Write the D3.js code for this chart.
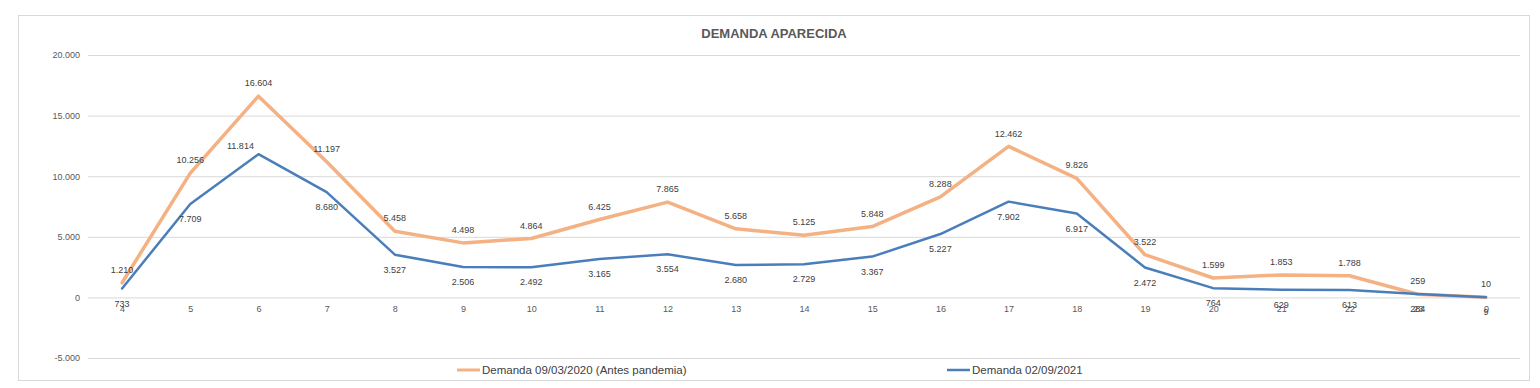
<!DOCTYPE html>
<html>
<head>
<meta charset="utf-8">
<script src="https://cdn.jsdelivr.net/npm/d3@7/dist/d3.min.js"></script>
<style>
  html, body { margin: 0; padding: 0; background: #fff; }
  svg { display: block; font-family: "Liberation Sans", Arial, sans-serif; }
</style>
</head>
<body>
<svg id="chart" width="1540" height="388"></svg>
<script>
const title = "DEMANDA APARECIDA";
const categories = ["4","5","6","7","8","9","10","11","12","13","14","15","16","17","18","19","20","21","22","23","0"];
const series2020 = [1210,10256,16604,11197,5458,4498,4864,6425,7865,5658,5125,5848,8288,12462,9826,3522,1599,1853,1788,259,10];
const series2021 = [733,7709,11814,8680,3527,2506,2492,3165,3554,2680,2729,3367,5227,7902,6917,2472,764,629,613,284,9];
const seriesNames = ["Demanda 09/03/2020 (Antes pandemia)", "Demanda 02/09/2021"];
const yTicks = [-5000, 0, 5000, 10000, 15000, 20000];

const colors = ["#F4B183", "#4A7EBB"];
const svg = d3.select("#chart");
const plotLeft = 88, plotRight = 1520, plotTop = 55, plotBottom = 358;

const locale = d3.formatLocale({decimal: ",", thousands: ".", grouping: [3], currency: ["", ""], minus: "-"});
const fmt = locale.format(",");

const x = d3.scalePoint().domain(categories).range([plotLeft, plotRight]).padding(0.5);
const y = d3.scaleLinear().domain([-5000, 20000]).range([plotBottom, plotTop]);

// chart border
svg.append("rect").attr("x", 18.5).attr("y", 15.5).attr("width", 1511).attr("height", 365)
  .attr("fill", "#fff").attr("stroke", "#d9d9d9").attr("stroke-width", 1);

// title
svg.append("text").attr("x", 774).attr("y", 33).attr("dy", "0.35em")
  .attr("text-anchor", "middle").attr("font-size", 13).attr("font-weight", "bold")
  .attr("fill", "#595959").text(title);

// y axis with gridlines
const yAxis = svg.append("g").attr("transform", `translate(${plotLeft},0)`)
  .call(d3.axisLeft(y).tickValues(yTicks).tickSize(-(plotRight - plotLeft)).tickPadding(8).tickFormat(fmt));
yAxis.select(".domain").remove();
yAxis.selectAll(".tick line").attr("stroke", "#d9d9d9").attr("stroke-width", 1);
yAxis.selectAll(".tick text").attr("fill", "#595959").attr("font-size", 9)
  .attr("font-family", "'Liberation Sans', Arial, sans-serif");

// x axis labels
const xAxis = svg.append("g").attr("transform", `translate(0,${y(0)})`)
  .call(d3.axisBottom(x).tickSize(0).tickPadding(8));
xAxis.select(".domain").remove();
xAxis.selectAll(".tick text").attr("fill", "#595959").attr("font-size", 9)
  .attr("font-family", "'Liberation Sans', Arial, sans-serif");

const line = d3.line().x((d, i) => x(categories[i])).y(d => y(d));
const allSeries = [series2020, series2021];
const widths = [3.5, 2.5];

allSeries.forEach((s, k) => {
  svg.append("path").datum(s).attr("d", line).attr("fill", "none")
    .attr("stroke", colors[k]).attr("stroke-width", widths[k])
    .attr("stroke-linejoin", "round").attr("stroke-linecap", "round");
});

// data labels
allSeries.forEach((s, k) => {
  svg.append("g").selectAll("text").data(s).join("text")
    .attr("x", (d, i) => x(categories[i]) + (k === 1 && i === 2 ? -18 : 0))
    .attr("y", (d, i) => {
      if (k === 0) return y(d) - 13;
      if (i === 2) return y(d) - 8;
      return y(d) + 15;
    })
    .attr("dy", "0.35em").attr("text-anchor", "middle")
    .attr("font-size", 9).attr("fill", "#404040")
    .text(d => fmt(d));
});

// legend
const legend = [{x: 457, name: seriesNames[0], c: colors[0], w: 3}, {x: 947, name: seriesNames[1], c: colors[1], w: 2.5}];
legend.forEach(l => {
  svg.append("line").attr("x1", l.x).attr("x2", l.x + 23).attr("y1", 370).attr("y2", 370)
    .attr("stroke", l.c).attr("stroke-width", l.w);
  svg.append("text").attr("x", l.x + 25).attr("y", 370).attr("dy", "0.35em")
    .attr("font-size", 11.5).attr("fill", "#404040").text(l.name);
});
</script>
</body>
</html>
